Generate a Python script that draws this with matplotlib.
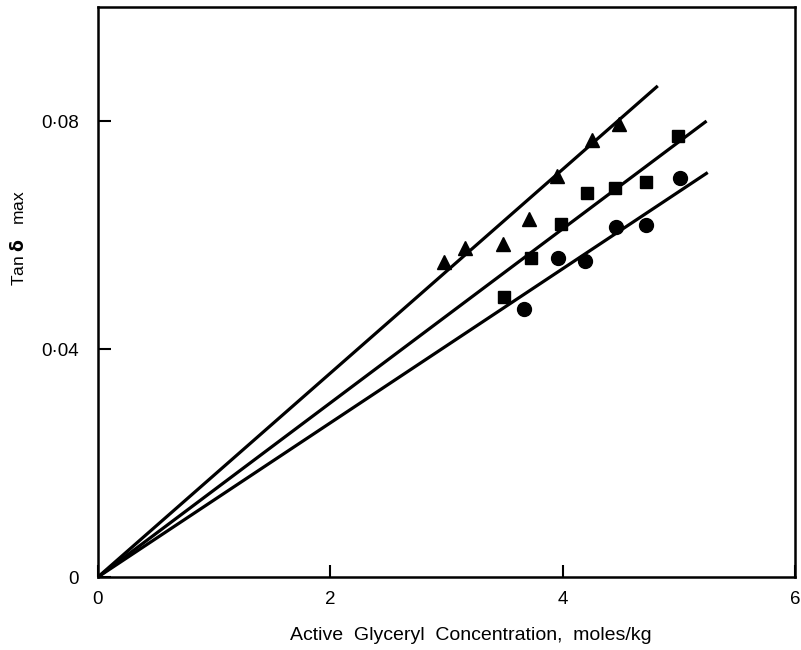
import numpy as np
import matplotlib
matplotlib.use('Agg')
import matplotlib.pyplot as plt

plt.rcParams['font.family'] = ['Liberation Sans', 'DejaVu Sans']

# data
tri_x = [2.98, 3.16, 3.49, 3.71, 3.95, 4.25, 4.49]
tri_y = [0.0552, 0.0578, 0.0585, 0.0629, 0.0703, 0.0767, 0.0795]

sq_x = [3.50, 3.73, 3.99, 4.21, 4.45, 4.72, 4.99]
sq_y = [0.0492, 0.0560, 0.0620, 0.0673, 0.0682, 0.0694, 0.0774]

circ_x = [3.67, 3.96, 4.19, 4.46, 4.72, 5.01]
circ_y = [0.0470, 0.0559, 0.0555, 0.0615, 0.0618, 0.0701]

# fitted lines through origin: slope, end x
line_slopes = [0.01788, 0.01527, 0.01352]
line_ends = [4.82, 5.24, 5.25]

xticks = [0, 2, 4, 6]
yticks = [0, 0.04, 0.08]
ytick_labels = ['0', '0·04', '0·08']

fig = plt.figure(figsize=(8.01, 6.5), dpi=100)
ax = fig.add_axes([0.1223, 0.1123, 0.870, 0.8767])

for m, xe in zip(line_slopes, line_ends):
    xs = np.array([0, xe])
    ax.plot(xs, m * xs, color='black', lw=2.3, solid_capstyle='butt')

ax.plot(tri_x, tri_y, '^', color='black', ms=10, ls='none')
ax.plot(sq_x, sq_y, 's', color='black', ms=9, ls='none')
ax.plot(circ_x, circ_y, 'o', color='black', ms=10, ls='none')

ax.set_xlim(0, 6)
ax.set_ylim(0, 0.1)
ax.set_xticks(xticks)
ax.set_xticklabels([str(t) for t in xticks])
ax.set_yticks(yticks)
ax.set_yticklabels(ytick_labels)
ax.tick_params(direction='in', length=9, width=1.5, labelsize=13.5)
ax.tick_params(axis='y', pad=14)
ax.tick_params(axis='x', pad=10)

for s in ax.spines.values():
    s.set_linewidth(1.8)

fig.text(471 / 801, 1 - 636 / 650, 'Active  Glyceryl  Concentration,  moles/kg',
         fontsize=14, ha='center', va='center')
fig.text(18 / 801, 1 - 238 / 650, 'Tan $\\mathbf{\\delta}$   max', fontsize=12.5,
         rotation=90, ha='center', va='center')

fig.savefig('out.png', dpi=100)
